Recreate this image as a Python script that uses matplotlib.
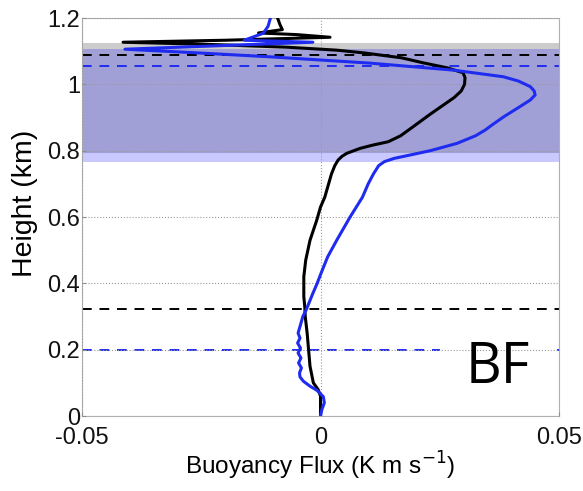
import numpy as np
import matplotlib.pyplot as plt

# buoyancy flux profiles (K m s^-1) vs height (km)
black_h = [0.0, 0.03, 0.06, 0.08, 0.10, 0.15, 0.20, 0.25, 0.30, 0.33, 0.36, 0.42, 0.47,
           0.53, 0.59, 0.63, 0.66, 0.70, 0.73, 0.755, 0.772, 0.783, 0.792, 0.807, 0.817,
           0.827, 0.845, 0.87, 0.91, 0.94, 0.96, 0.98, 1.00, 1.02, 1.035, 1.05,
           1.065, 1.08, 1.095, 1.103, 1.112, 1.121, 1.127, 1.133, 1.142, 1.150, 1.155,
           1.165, 1.18, 1.20]
black_f = [0.0, 0.0, 0.0, -0.0005, -0.0015, -0.0022, -0.0025, -0.0028, -0.0032, -0.0033,
           -0.0035, -0.0035, -0.0031, -0.0022, -0.0008, 0.0, 0.0009, 0.0017, 0.0023,
           0.0030, 0.0037, 0.0045, 0.0055, 0.0083, 0.0110, 0.0142, 0.0168, 0.0192,
           0.0230, 0.0260, 0.0280, 0.0295, 0.0302, 0.0303, 0.0299, 0.0265,
           0.0215, 0.0170, 0.0090, 0.0035, -0.0070, -0.0246, -0.0414, -0.0200, 0.0020,
           -0.0050, -0.0130, -0.0080, -0.0085, -0.0090]

blue_h = [0.0, 0.02, 0.04, 0.058, 0.07, 0.078, 0.09, 0.105, 0.118, 0.13, 0.145, 0.16,
          0.175, 0.19, 0.205, 0.22, 0.235, 0.25, 0.275, 0.30, 0.32, 0.345, 0.37, 0.40,
          0.43, 0.48, 0.53, 0.60, 0.66, 0.70, 0.73, 0.755, 0.767, 0.777, 0.787, 0.80,
          0.822, 0.845, 0.862, 0.88, 0.903, 0.93, 0.953, 0.968, 0.98, 0.993, 1.01,
          1.023, 1.043, 1.064, 1.083, 1.094, 1.106, 1.127, 1.133, 1.154, 1.175, 1.20]
blue_f = [0.0, 0.0003, 0.0008, 0.0006, -0.0002, -0.0008, -0.0022, -0.0036, -0.0043,
          -0.0044, -0.0040, -0.0046, -0.0041, -0.0047, -0.0042, -0.0048, -0.0043,
          -0.0047, -0.0042, -0.0037, -0.0030, -0.0023, -0.0016, -0.0007, 0.0001,
          0.0015, 0.0034, 0.0062, 0.0088, 0.0100, 0.0111, 0.0122, 0.0134, 0.0155,
          0.0188, 0.0230, 0.0286, 0.0325, 0.0345, 0.0362, 0.0385, 0.0415, 0.0440,
          0.0450, 0.0448, 0.0440, 0.0415, 0.0383, 0.0278, 0.0104, -0.0106, -0.0246,
          -0.0410, -0.0016, -0.0160, -0.0120, -0.0110, -0.0105]

# layer bounds (km)
gray_band = (0.793, 1.125)
blue_band = (0.766, 1.107)
black_dash = [0.322, 1.087]
blue_dash = [0.199, 1.055]

BLUE = '#1f2cf0'
FONT = 'Liberation Sans'

fig = plt.figure(figsize=(5.83, 4.91), dpi=100)
ax = fig.add_axes([0.1407, 0.1527, 0.8181, 0.8106])

ax.axhspan(*gray_band, color='#808080', alpha=0.40, lw=0, zorder=0)
ax.axhspan(*blue_band, color='#0000ff', alpha=0.21, lw=0, zorder=0.5)

for h in black_dash:
    ax.axhline(h, color='black', ls=(0, (5, 4)), lw=1.4, zorder=2)
ax.plot([-0.05, 0.025], [blue_dash[0]] * 2, color=BLUE, ls=(0, (5, 4)), lw=1.4, zorder=2)
ax.plot([0.0497, 0.05], [blue_dash[0]] * 2, color=BLUE, lw=1.4, zorder=2)
ax.axhline(blue_dash[1], color=BLUE, ls=(0, (5, 4)), lw=1.4, zorder=2)

ax.plot(black_f, black_h, color='black', lw=2.2, zorder=3)
ax.plot(blue_f, blue_h, color=BLUE, lw=2.2, zorder=3)

ax.text(0.0305, 0.0985, 'BF', fontsize=40, family='Open Sans',
        ha='left', va='baseline', color='black')

ax.set_xlim(-0.05, 0.05)
ax.set_ylim(0, 1.2)
ax.set_xticks([-0.05, 0, 0.05])
ax.set_xticklabels(['-0.05', '0', '0.05'])
ax.set_yticks([0, 0.2, 0.4, 0.6, 0.8, 1.0, 1.2])
ax.set_yticklabels(['0', '0.2', '0.4', '0.6', '0.8', '1', '1.2'])
ax.grid(True, color='#9a9a9a', ls=':', lw=0.8)
ax.set_axisbelow(False)
for s in ax.spines.values():
    s.set_color('#b0b0b0')
    s.set_linewidth(0.8)
ax.tick_params(direction='in', length=3, color='#909090', labelsize=17,
               labelcolor='#111111')
ax.tick_params(axis='x', pad=8)
ax.tick_params(axis='y', pad=1.5)
for lab in ax.get_xticklabels() + ax.get_yticklabels():
    lab.set_family(FONT)

ax.set_xlabel('Buoyancy Flux (K m s$^{-1}$)', fontsize=17.5, family=FONT, va='baseline')
ax.xaxis.set_label_coords(0.5, -0.148)
ax.set_ylabel('Height (km)', fontsize=20.5, family=FONT, va='center')
ax.yaxis.set_label_coords(-0.12, 0.535)

fig.savefig('out.png', dpi=100)
